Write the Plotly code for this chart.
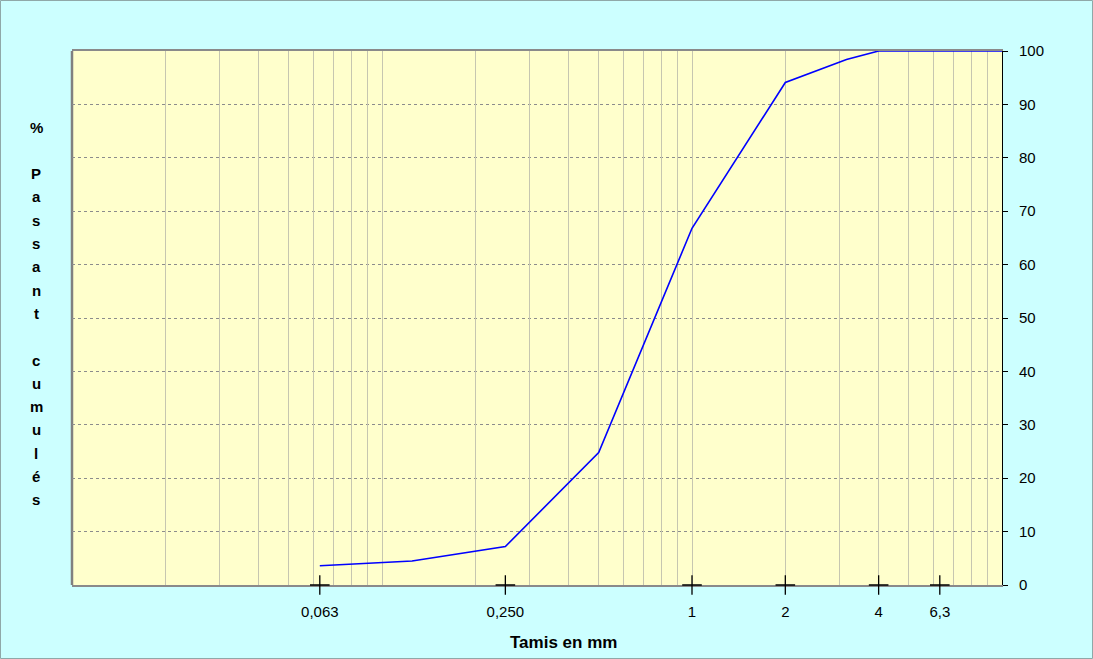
import plotly.graph_objects as go

# ---- data ----
sieve_mm = [0.063, 0.125, 0.25, 0.5, 1, 2, 3.15, 4, 5, 6.3, 8, 10]
passing_pct = [3.6, 4.5, 7.2, 24.8, 66.8, 94.1, 98.4, 100, 100, 100, 100, 100]

x_tick_vals = [0.063, 0.25, 1, 2, 4, 6.3]
x_tick_text = ["0,063", "0,250", "1", "2", "4", "6,3"]
grid_vals = [m * d for d in (0.01, 0.1, 1) for m in range(1, 10)] + [10]
y_tick_vals = list(range(0, 101, 10))

y_title_chars = ["%", "", "P", "a", "s", "s", "a", "n", "t", "",
                 "c", "u", "m", "u", "l", "é", "s"]
x_title = "Tamis en mm"

W, H = 1093, 659
L, R, T, B = 72, 91, 51, 74
pw, ph = W - L - R, H - T - B

FONT = "Liberation Sans, Arial, sans-serif"

fig = go.Figure()

# invisible trace on xaxis2 so the grid axis is drawn
fig.add_trace(go.Scatter(x=[1], y=[None], xaxis="x2", yaxis="y",
                         mode="lines", showlegend=False, hoverinfo="skip"))

fig.add_trace(go.Scatter(
    x=sieve_mm, y=passing_pct, mode="lines",
    line=dict(color="#0000FF", width=1.6),
    xaxis="x", yaxis="y", showlegend=False, hoverinfo="x+y",
))

# cross-shaped tick marks on the x axis
fig.add_trace(go.Scatter(
    x=x_tick_vals, y=[0] * len(x_tick_vals), mode="markers",
    marker=dict(symbol="cross-thin", size=14, line=dict(color="black", width=1.3)),
    cliponaxis=False, showlegend=False, hoverinfo="skip",
))

annotations = []
for k, ch in enumerate(y_title_chars):
    if not ch:
        continue
    ypix = 127 + 23.3 * k
    annotations.append(dict(
        text=ch, xref="paper", yref="paper",
        x=(36 - L) / pw, y=(H - B - ypix) / ph,
        xanchor="center", yanchor="middle", showarrow=False,
        font=dict(family=FONT, size=15, color="black", weight="bold"),
    ))
annotations.append(dict(
    text="<b>" + x_title + "</b>", xref="paper", yref="paper",
    x=(563.5 - L) / pw, y=(H - B - 642) / ph,
    xanchor="center", yanchor="middle", showarrow=False,
    font=dict(family=FONT, size=17, color="black"),
))

fig.update_layout(
    width=W, height=H,
    margin=dict(l=L, r=R, t=T, b=B, pad=0),
    paper_bgcolor="#CCFFFF",
    plot_bgcolor="#FFFFCC",
    font=dict(family=FONT, size=15, color="black"),
    showlegend=False,
    xaxis=dict(
        type="log", range=[-2, 1],
        tickvals=x_tick_vals, ticktext=x_tick_text,
        ticks="", showgrid=False, zeroline=False,
        showline=True, linecolor="#8A8A8A", linewidth=2, mirror=True,
        layer="below traces",
        ticklabelstandoff=12,
        tickfont=dict(family=FONT, size=15, color="black"),
    ),
    xaxis2=dict(
        type="log", range=[-2, 1], overlaying="x",
        tickvals=grid_vals, showticklabels=False, ticks="",
        showgrid=True, gridcolor="#C6C6B0", gridwidth=1,
        zeroline=False, showline=False,
    ),
    yaxis=dict(
        range=[0, 100], side="right",
        tickvals=y_tick_vals, ticks="outside", ticklen=5,
        tickcolor="black", tickwidth=1,
        showgrid=True, gridcolor="#8C8C8C", griddash="dot", gridwidth=1,
        zeroline=False,
        showline=True, linecolor="black", linewidth=1,
        ticklabelstandoff=8,
        tickfont=dict(family=FONT, size=15, color="black"),
    ),
    annotations=annotations,
    shapes=[
        dict(type="line", xref="paper", yref="paper", x0=0, x1=0, y0=0, y1=1,
             line=dict(color="#808080", width=2.5), layer="below"),
        dict(type="rect", xref="paper", yref="paper",
             x0=(0.5 - L) / pw, x1=(W - 0.5 - L) / pw,
             y0=(H - B - (H - 0.5)) / ph, y1=(H - B - 0.5) / ph,
             line=dict(color="#8FA8A8", width=1), layer="below"),
    ],
)

fig.write_html(
    "out.html",
    config={"displayModeBar": False},
    post_script="document.body.style.margin='0';document.body.style.overflow='hidden';",
)
